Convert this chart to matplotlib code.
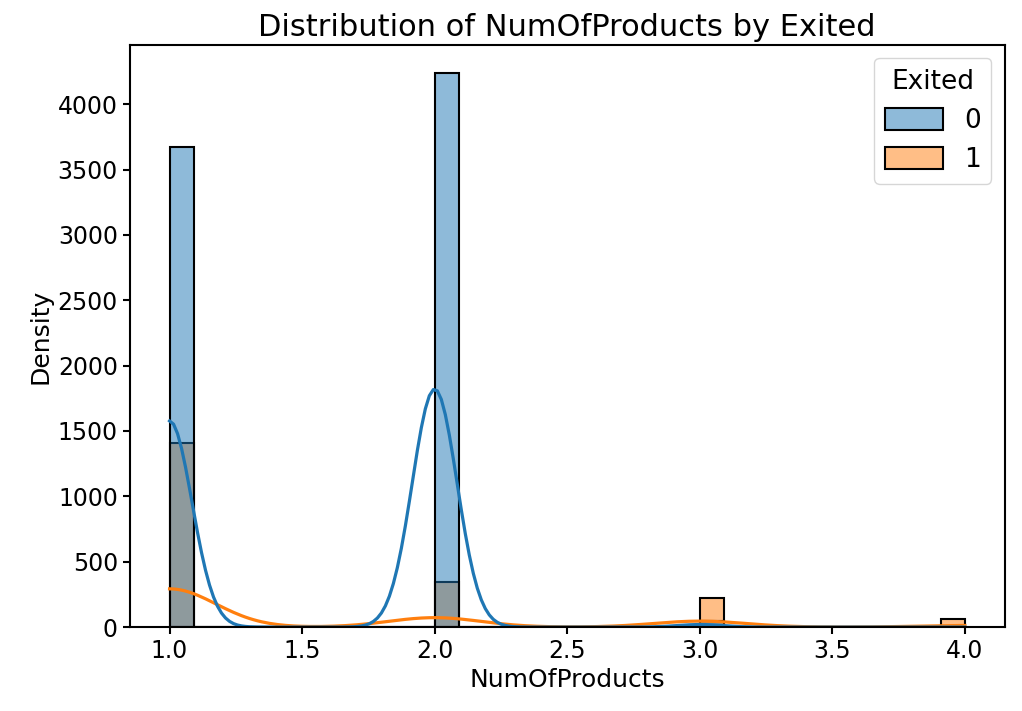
import numpy as np
import pandas as pd
import matplotlib
matplotlib.use('Agg')
import matplotlib.pyplot as plt
import seaborn as sns

# counts per NumOfProducts value, split by Exited
products = [1, 2, 3, 4]
stayed   = [3675, 4242, 46, 0]
exited   = [1409, 348, 220, 60]

df = pd.DataFrame({
    'NumOfProducts': np.concatenate([np.repeat(products, stayed), np.repeat(products, exited)]),
    'Exited': np.concatenate([np.zeros(sum(stayed), int), np.ones(sum(exited), int)]),
})

fig = plt.figure(figsize=(10.22, 7.11), dpi=100)
ax = fig.add_axes([0.127, 0.118, 0.856, 0.819])

sns.histplot(data=df, x='NumOfProducts', hue='Exited', kde=True, ax=ax,
             line_kws={'linewidth': 2.3}, edgecolor='black', linewidth=1.5)

ax.set_title('Distribution of NumOfProducts by Exited', fontsize=22)
ax.set_ylabel('Density', fontsize=18)
ax.set_xlabel('NumOfProducts', fontsize=18)
ax.tick_params(labelsize=17, width=1.5, length=5)
for s in ax.spines.values():
    s.set_linewidth(1.5)

# rebuild legend a bit larger, like the upscaled original
old = ax.get_legend()
handles = old.legend_handles
labels = [t.get_text() for t in old.get_texts()]
old.remove()
ax.legend(handles, labels, title='Exited', loc='upper right', fontsize=19,
          title_fontsize=19, handlelength=2.2, handleheight=0.9)

fig.savefig('out.png', dpi=100)
